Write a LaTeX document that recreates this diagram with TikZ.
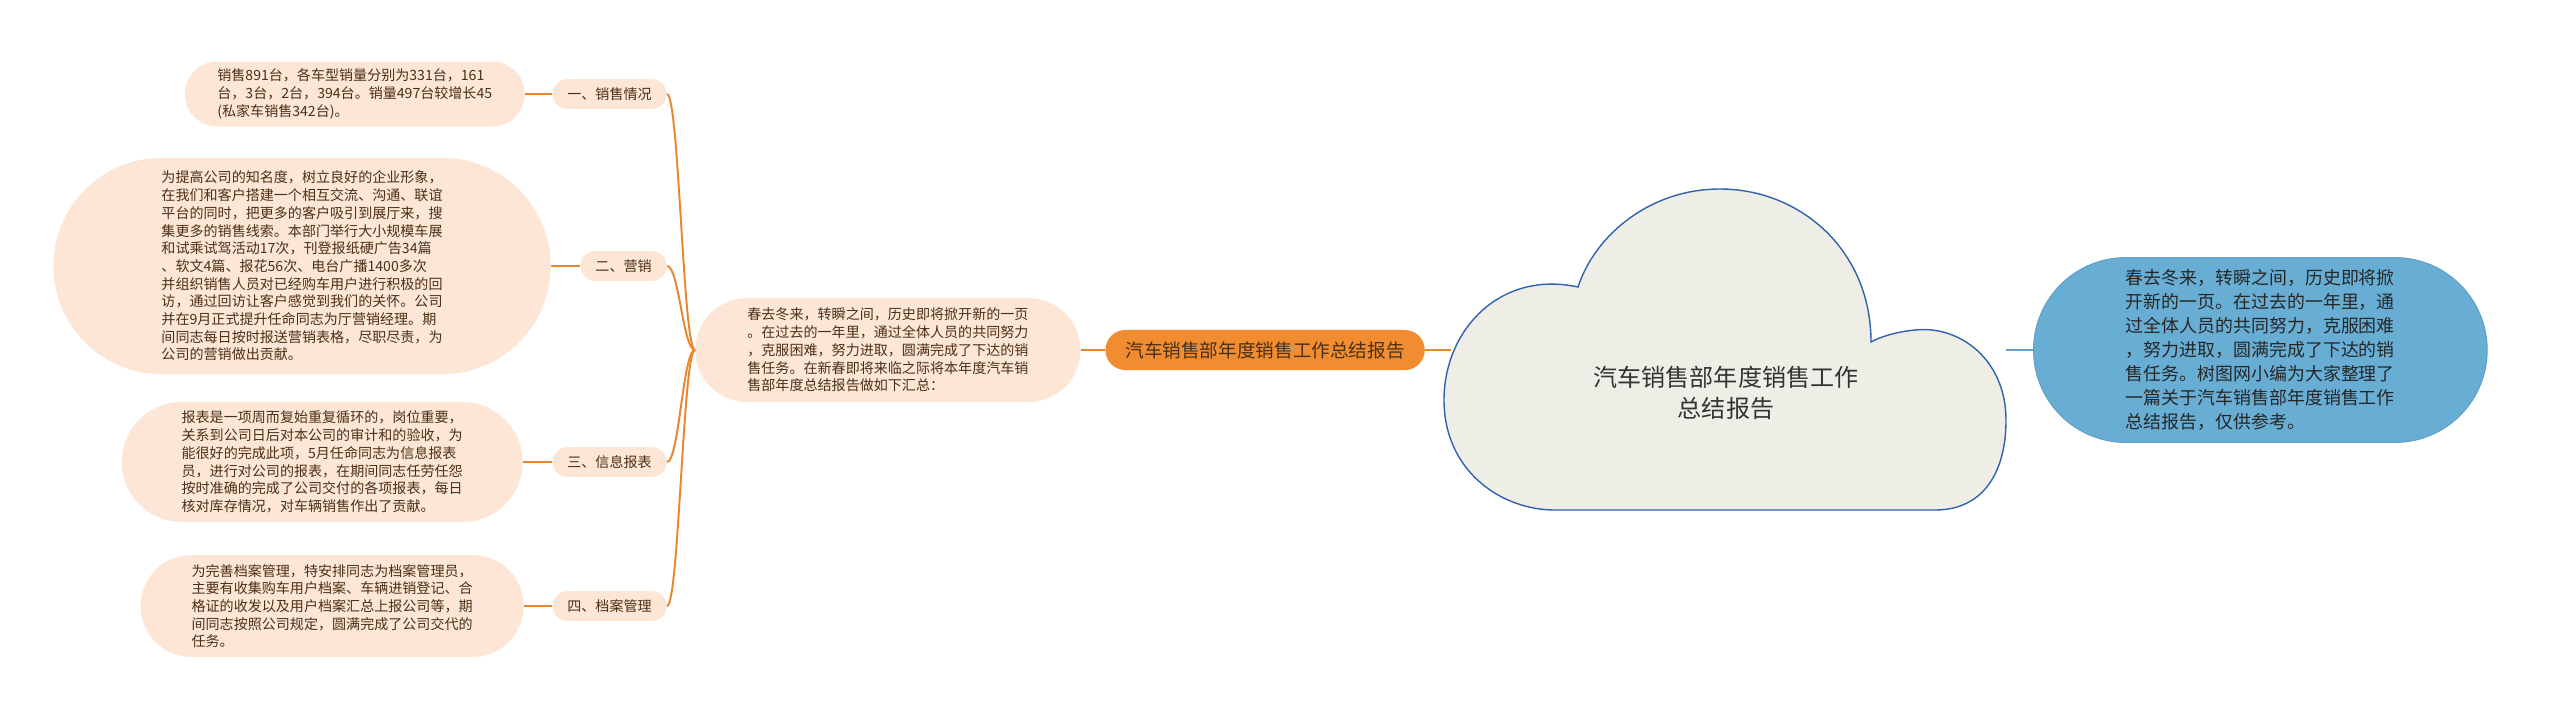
\documentclass[tikz,border=0pt]{standalone}
\usepackage{fontspec}
\setmainfont{Noto Sans CJK SC}
\usepackage{tikz}
\usetikzlibrary{positioning}
\usepackage{xcolor}
\definecolor{peach}{HTML}{FDE6D5}
\definecolor{leaftext}{HTML}{4A3015}
\definecolor{orangeline}{HTML}{E8862C}
\definecolor{topicfill}{HTML}{F28C30}
\definecolor{sky}{HTML}{68AED4}
\definecolor{skyline}{HTML}{5F9FC9}
\definecolor{cloudfill}{HTML}{EFEEE6}
\definecolor{cloudline}{HTML}{2F63AE}

\begin{document}
\begin{tikzpicture}[x=0.02cm, y=-0.02cm,
  pill/.style={rectangle, rounded corners=#1, inner xsep=#1, inner ysep=0pt,
    minimum height=2*#1},
  leaf/.style={pill=#1, fill=peach, align=left, text=leaftext,
    font=\fontsize{8}{10.07}\selectfont},
  secnode/.style={pill=8.5pt, fill=peach, text=leaftext,
    font=\fontsize{8}{10}\selectfont},
  link/.style={draw=orangeline, line width=1.1pt}]

  % Canvas
  \fill[white] (0,0) rectangle (2560,718);
  \useasboundingbox (0,0) rectangle (2560,718);

  % Left leaves
  \node[leaf=18.5pt, anchor=east] (leaf1) at (525,94)
    {销售891台，各车型销量分别为331台，161\\台，3台，2台，394台。销量497台较增长45\\(私家车销售342台)。};
  \node[leaf=61.5pt, anchor=east] (leaf2) at (551,266)
    {为提高公司的知名度，树立良好的企业形象，\\在我们和客户搭建一个相互交流、沟通、联谊\\平台的同时，把更多的客户吸引到展厅来，搜\\集更多的销售线索。本部门举行大小规模车展\\和试乘试驾活动17次，刊登报纸硬广告34篇\\、软文4篇、报花56次、电台广播1400多次\\并组织销售人员对已经购车用户进行积极的回\\访，通过回访让客户感觉到我们的关怀。公司\\并在9月正式提升任命同志为厅营销经理。期\\间同志每日按时报送营销表格，尽职尽责，为\\公司的营销做出贡献。};
  \node[leaf=34.1pt, anchor=east] (leaf3) at (523,462)
    {报表是一项周而复始重复循环的，岗位重要，\\关系到公司日后对本公司的审计和的验收，为\\能很好的完成此项，5月任命同志为信息报表\\员，进行对公司的报表，在期间同志任劳任怨\\按时准确的完成了公司交付的各项报表，每日\\核对库存情况，对车辆销售作出了贡献。};
  \node[leaf=29pt, anchor=east] (leaf4) at (524,606)
    {为完善档案管理，特安排同志为档案管理员，\\主要有收集购车用户档案、车辆进销登记、合\\格证的收发以及用户档案汇总上报公司等，期\\间同志按照公司规定，圆满完成了公司交代的\\任务。};

  % Section labels
  \node[secnode, anchor=east] (sec1) at (667,94) {一、销售情况};
  \node[secnode, anchor=east] (sec2) at (667,266) {二、营销};
  \node[secnode, anchor=east] (sec3) at (667,462) {三、信息报表};
  \node[secnode, anchor=east] (sec4) at (667,606) {四、档案管理};

  % Summary and topic
  \node[leaf=29.6pt, anchor=west] (summary) at (695,350)
    {春去冬来，转瞬之间，历史即将掀开新的一页\\。在过去的一年里，通过全体人员的共同努力\\，克服困难，努力进取，圆满完成了下达的销\\售任务。在新春即将来临之际将本年度汽车销\\售部年度总结报告做如下汇总：};
  \node[pill=11.4pt, fill=topicfill, text=leaftext,
    font=\fontsize{10.6}{12}\selectfont, anchor=west] (topic) at (1105,350)
    {汽车销售部年度销售工作总结报告};

  % Cloud
  \draw[cloudline, fill=cloudfill, line width=0.8pt]
    (1555,510) -- (1935,510)
    .. controls (1985,510) and (2006,470) .. (2006,420)
    .. controls (2006,360) and (1960,325) .. (1915,330)
    .. controls (1895,332) and (1880,337) .. (1871,342)
    .. controls (1871,250) and (1800,189) .. (1720,189)
    .. controls (1650,189) and (1595,235) .. (1578,287)
    .. controls (1500,270) and (1444,330) .. (1444,400)
    .. controls (1444,470) and (1500,510) .. (1555,510) -- cycle;
  \node[align=center, text=black!80, font=\fontsize{13.7}{17.6}\selectfont]
    (root) at (1726,393) {汽车销售部年度销售工作\\总结报告};
  \coordinate (cloudW) at (1451,350);
  \coordinate (cloudE) at (2006,350);

  % Right note
  \node[pill=52.6pt, fill=sky, draw=skyline, line width=0.6pt, align=left,
    text=black!85, font=\fontsize{10.2}{13.7}\selectfont, anchor=west]
    (note) at (2033,350)
    {春去冬来，转瞬之间，历史即将掀\\开新的一页。在过去的一年里，通\\过全体人员的共同努力，克服困难\\，努力进取，圆满完成了下达的销\\售任务。树图网小编为大家整理了\\一篇关于汽车销售部年度销售工作\\总结报告，仅供参考。};

  % Connectors
  \foreach \i in {1,...,4} {
    \draw[link] (leaf\i.east) -- (sec\i.west);
    \draw[link] (sec\i.east) .. controls +(12,0) and +(-12,0) .. (summary.west);
  }
  \draw[link] (summary.east) -- (topic.west);
  \draw[link] (topic.east) -- (cloudW);
  \draw[skyline, line width=1.4pt] (cloudE) -- (note.west);
\end{tikzpicture}
\end{document}
